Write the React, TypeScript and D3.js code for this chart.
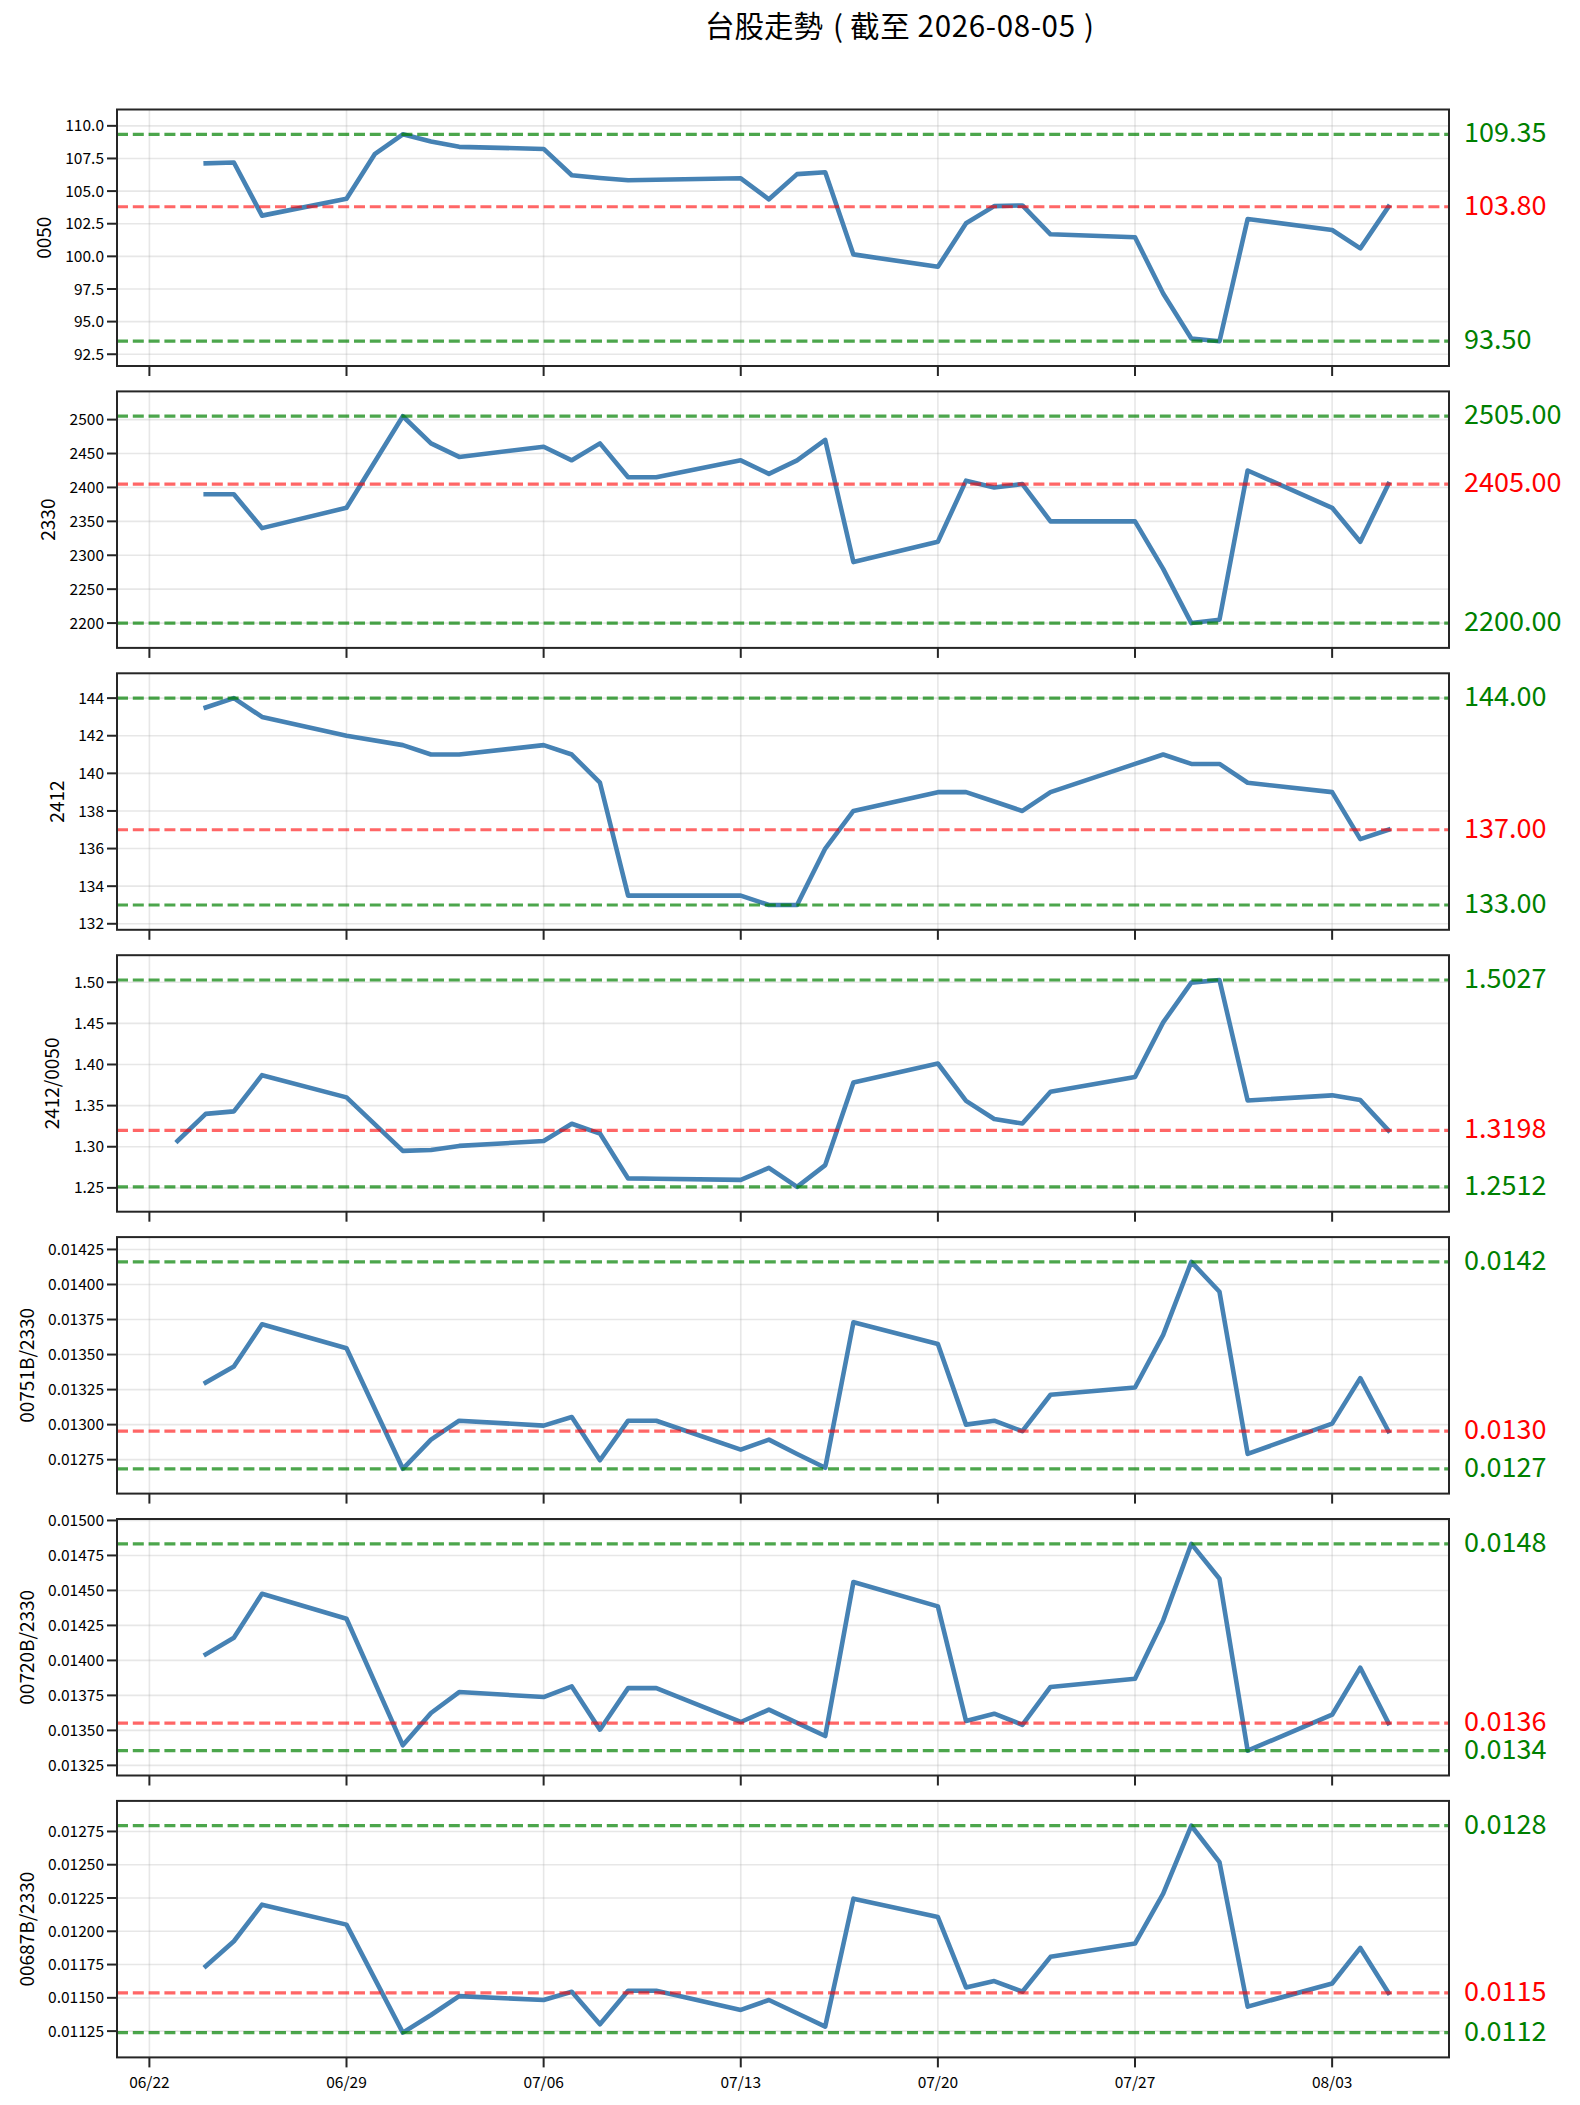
import React from 'react';
import * as d3 from 'd3';

// trading dates (2026), each series skips the days it has no value for
const dates = [
  '06-23', '06-24', '06-25', '06-26', '06-29', '06-30', '07-01', '07-02', '07-03',
  '07-06', '07-07', '07-08', '07-09', '07-10', '07-13', '07-14', '07-15', '07-16',
  '07-17', '07-20', '07-21', '07-22', '07-23', '07-24', '07-27', '07-28', '07-29',
  '07-30', '07-31', '08-03', '08-04', '08-05',
];

const values0050 = [
  null, 107.13, 107.19, 103.12, 104.42, 107.83, 109.35, 108.8, 108.39,
  108.23, 106.21, 106.0, 105.83, 105.87, 105.98, 104.37, 106.3, 106.44,
  100.15, 99.2, 102.53, 103.85, 103.9, 101.69, 101.46, 97.16, 93.7,
  93.5, 102.86, 102.02, 100.61, 103.8,
];

const values2330 = [
  null, 2390, 2390, 2340, 2370, null, 2505, 2465, 2445,
  2460, 2440, 2465, 2415, 2415, 2440, 2420, 2440, 2470,
  2290, 2320, 2410, 2400, 2405, 2350, 2350, 2280, 2200,
  2205, 2425, 2370, 2320, 2405,
];

const values2412 = [
  null, 143.5, 144, 143, 142, null, 141.5, 141, 141,
  141.5, 141, 139.5, 133.5, 133.5, 133.5, 133, 133, 136,
  138, 139, 139, 138.5, 138, 139, 140.5, 141, 140.5,
  140.5, 139.5, 139, 136.5, 137,
];

const ratio2412_0050 = [
  1.307, 1.340, 1.343, 1.387, 1.360, null, 1.295, 1.296, 1.301,
  1.307, 1.328, 1.316, 1.2615, 1.261, 1.2597, 1.2743, 1.2512, 1.2777,
  1.378, 1.4012, 1.3557, 1.3337, 1.3282, 1.3669, 1.3848, 1.4512, 1.4995,
  1.5027, 1.3562, 1.3625, 1.3567, 1.3198,
];

const ratio00751B = [
  null, 0.0133, 0.013415, 0.013716, 0.013545, null, 0.012685, 0.012893, 0.013028,
  0.012993, 0.013054, 0.012746, 0.013028, 0.013028, 0.012822, 0.012893, 0.01279, 0.012692,
  0.01373, 0.013576, 0.013, 0.013028, 0.012953, 0.013213, 0.013265, 0.01364, 0.014161,
  0.013948, 0.012791, 0.013007, 0.013332, 0.012953,
];

const ratio00720B = [
  null, 0.014043, 0.014162, 0.014476, 0.014298, null, 0.013393, 0.013624, 0.013774,
  0.013738, 0.013814, 0.013505, 0.013802, 0.013802, 0.01356, 0.013648, 0.013554, 0.01346,
  0.01456, 0.014386, 0.013567, 0.013619, 0.01354, 0.01381, 0.013869, 0.014286, 0.014833,
  0.014583, 0.013355, 0.013612, 0.013948, 0.013552,
];

const ratio00687B = [
  null, 0.011738, 0.011925, 0.0122, 0.01205, null, 0.011239, 0.011371, 0.011513,
  0.011484, 0.011546, 0.011301, 0.011553, 0.011553, 0.011409, 0.011484, 0.011384, 0.011284,
  0.012245, 0.012107, 0.011578, 0.011626, 0.011546, 0.011808, 0.011908, 0.012282, 0.012793,
  0.012519, 0.011434, 0.011608, 0.011875, 0.011538,
];

const ticks0050 = [92.5, 95, 97.5, 100, 102.5, 105, 107.5, 110];
const ticks2330 = [2200, 2250, 2300, 2350, 2400, 2450, 2500];
const ticks2412 = [132, 134, 136, 138, 140, 142, 144];
const ticksRatio2412 = [1.25, 1.3, 1.35, 1.4, 1.45, 1.5];
const ticks00751B = [0.01275, 0.013, 0.01325, 0.0135, 0.01375, 0.014, 0.01425];
const ticks00720B = [0.01325, 0.0135, 0.01375, 0.014, 0.01425, 0.0145, 0.01475, 0.015];
const ticks00687B = [0.01125, 0.0115, 0.01175, 0.012, 0.01225, 0.0125, 0.01275];

const xTicks = ['06-22', '06-29', '07-06', '07-13', '07-20', '07-27', '08-03'];

// title pieces: 台股走勢（截至 2026-08-05）
const titleHead = '台股走勢';
const titleBody = '截至 2026-08-05';

const panels = [
  { label: '0050', values: values0050, ticks: ticks0050, tickFmt: '.1f', valFmt: '.2f' },
  { label: '2330', values: values2330, ticks: ticks2330, tickFmt: 'd', valFmt: '.2f' },
  { label: '2412', values: values2412, ticks: ticks2412, tickFmt: 'd', valFmt: '.2f' },
  { label: '2412/0050', values: ratio2412_0050, ticks: ticksRatio2412, tickFmt: '.2f', valFmt: '.4f' },
  { label: '00751B/2330', values: ratio00751B, ticks: ticks00751B, tickFmt: '.5f', valFmt: '.4f' },
  { label: '00720B/2330', values: ratio00720B, ticks: ticks00720B, tickFmt: '.5f', valFmt: '.4f' },
  { label: '00687B/2330', values: ratio00687B, ticks: ticks00687B, tickFmt: '.5f', valFmt: '.4f' },
];

const W = 1580;
const H = 2105;
const left = 117;
const right = 1449;
const top0 = 109.5;
const step = 281.9;
const ph = 256.5;
const tickSize = 15.5;
const font = '"Noto Sans CJK TC", "Noto Sans", sans-serif';

const toDate = (d: string) => new Date(`2026-${d}T00:00:00Z`);

// width of a tick label, so the y label sits just left of the widest one
let ctx: CanvasRenderingContext2D | null = null;
function textWidth(s: string) {
  if (!ctx && typeof document !== 'undefined') {
    ctx = document.createElement('canvas').getContext('2d');
  }
  if (ctx) {
    ctx.font = `${tickSize}px ${font}`;
    return ctx.measureText(s).width;
  }
  return s.length * tickSize * 0.53;
}

export default function App() {
  const allDates = dates.map(toDate);
  const [t0, t1] = d3.extent(allDates) as [Date, Date];
  const pad = (t1.getTime() - t0.getTime()) * 0.05;
  const x = d3
    .scaleUtc()
    .domain([new Date(t0.getTime() - pad), new Date(t1.getTime() + pad)])
    .range([left, right]);

  return (
    <svg
      width={W}
      height={H}
      style={{ position: 'absolute', left: 0, top: 0, background: '#fff', fontFamily: font }}
    >
      <rect width={W} height={H} fill="#fff" />
      <text y={37} fontSize={29.5} fill="#000">
        <tspan x={705}>{titleHead}</tspan>
        <tspan x={833}>(</tspan>
        <tspan x={850} textLength={225} lengthAdjust="spacing">{titleBody}</tspan>
        <tspan x={1084}>)</tspan>
      </text>

      {panels.map((p, i) => {
        const top = top0 + i * step;
        const bottom = top + ph;
        const pts = p.values
          .map((v, j) => ({ date: allDates[j], value: v }))
          .filter(d => d.value !== null) as { date: Date; value: number }[];
        const vmin = d3.min(pts, d => d.value) as number;
        const vmax = d3.max(pts, d => d.value) as number;
        const last = pts[pts.length - 1].value;
        const r = vmax - vmin;
        const y = d3
          .scaleLinear()
          .domain([vmin - r * 0.12, vmax + r * 0.12])
          .range([bottom, top]);
        const line = d3
          .line<{ date: Date; value: number }>()
          .x(d => x(d.date))
          .y(d => y(d.value));
        const tf = d3.format(p.tickFmt);
        const vf = d3.format(p.valFmt);
        const refs = [
          { v: vmax, stroke: '#008000', text: '#008000' },
          { v: last, stroke: '#ff0000', text: '#ff0000' },
          { v: vmin, stroke: '#008000', text: '#008000' },
        ];
        const isLast = i === panels.length - 1;
        const tickRight = left - 13;
        const maxW = d3.max(p.ticks, t => textWidth(tf(t))) as number;
        const labelCenter = tickRight - maxW - 21.5;
        return (
          <g key={p.label}>
            {/* grid */}
            {p.ticks.map(t => (
              <line key={'hy' + t} x1={left} x2={right} y1={y(t)} y2={y(t)}
                stroke="#b0b0b0" strokeOpacity={0.3} strokeWidth={1.6} />
            ))}
            {xTicks.map(t => (
              <line key={'vx' + t} x1={x(toDate(t))} x2={x(toDate(t))} y1={top} y2={bottom}
                stroke="#b0b0b0" strokeOpacity={0.3} strokeWidth={1.6} />
            ))}

            <path d={line(pts) ?? ''} fill="none" stroke="#4682b4" strokeWidth={4.6}
              strokeLinejoin="round" strokeLinecap="square" />

            {refs.map((rf, k) => (
              <line key={'ref' + k} x1={left} x2={right} y1={y(rf.v)} y2={y(rf.v)}
                stroke={rf.stroke} strokeOpacity={k === 1 ? 0.6 : 0.7} strokeWidth={3.2}
                strokeDasharray="11,4.8" />
            ))}

            <rect x={left} y={top} width={right - left} height={ph} fill="none"
              stroke="#262626" strokeWidth={2} />

            {/* y ticks */}
            {p.ticks.map(t => (
              <g key={'yt' + t}>
                <line x1={left - 10} x2={left} y1={y(t)} y2={y(t)} stroke="#262626" strokeWidth={2} />
                <text x={tickRight} y={y(t)} dy="0.36em" textAnchor="end" fontSize={tickSize} fill="#000">
                  {tf(t)}
                </text>
              </g>
            ))}

            {/* x ticks */}
            {xTicks.map(t => (
              <g key={'xt' + t}>
                <line x1={x(toDate(t))} x2={x(toDate(t))} y1={bottom} y2={bottom + 10}
                  stroke="#262626" strokeWidth={2} />
                {isLast && (
                  <text x={x(toDate(t))} y={bottom + 31} textAnchor="middle" fontSize={tickSize} fill="#000">
                    {t.replace('-', '/')}
                  </text>
                )}
              </g>
            ))}

            <text transform={`translate(${labelCenter + 7},${(top + bottom) / 2}) rotate(-90)`}
              textAnchor="middle" fontSize={19} fill="#000">
              {p.label}
            </text>

            {refs.map((rf, k) => (
              <text key={'lbl' + k} x={1464} y={y(rf.v) + 8} fontSize={27} fill={rf.text}>
                {vf(rf.v)}
              </text>
            ))}
          </g>
        );
      })}
    </svg>
  );
}
